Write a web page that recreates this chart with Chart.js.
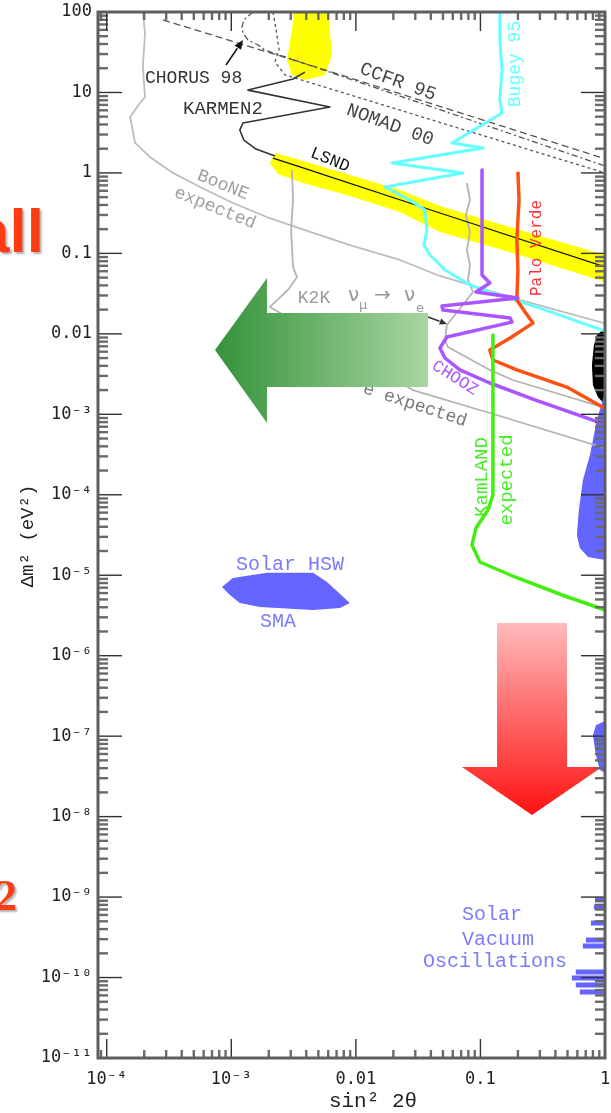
<!DOCTYPE html>
<html>
<head>
<meta charset="utf-8">
<title>Neutrino oscillation limits</title>
<script src="https://cdn.jsdelivr.net/npm/chart.js@4.4.1/dist/chart.umd.min.js"></script>
<style>
  html, body { margin: 0; padding: 0; background: #fff; }
  canvas { display: block; }
</style>
</head>
<body>
<canvas id="myChart" width="611" height="1113"></canvas>
<script>
// [sin^2 2theta, delta m^2 (eV^2)]
const boone = [[1.95e-4,100],[2.03e-4,54.8],[1.95e-4,20.7],[2.03e-4,8.79],[1.85e-4,7.4],[1.54e-4,4.95],[1.6e-4,3.72],[1.69e-4,2.36],[2.22e-4,1.58],[3.4e-4,1.0],[5.61e-4,0.668],[1.03e-3,0.423],[1.93e-3,0.283],[3.9e-3,0.195],[8.95e-3,0.127],[0.0226,0.0828],[0.0473,0.0524],[0.207,0.0264],[1,0.0135]];
const k2kExp = [[3.07e-3,1.09],[3.13e-3,0.46],[3.02e-3,0.195],[3.13e-3,0.0678],[3.37e-3,0.0508],[2.85e-3,0.0351],[2.04e-3,0.0216],[0.0287,2.0e-3],[0.143,9.53e-4],[1,3.8e-4]];
const grayB = [[0.0778,0.75],[0.0824,0.46],[0.0764,0.30],[0.0824,0.185],[0.0778,0.110],[0.0824,0.0718],[0.0794,0.0467],[0.0871,0.0331],[0.0538,0.0129],[0.0519,8.38e-3],[0.0548,6.86e-3],[0.119,3.56e-3],[0.182,2.67e-3],[1,1.2e-3]];
const ccfr = [[2.83e-4,79.6],[3.56e-3,23.9],[1,1.5]];
const chorus = [[1.49e-3,100],[1.26e-3,79.6],[1.22e-3,65.2],[1.24e-3,54.8],[1.36e-3,44.9],[1.64e-3,38.9],[1.86e-3,33.7],[1,1.22]];
const nomad = [[2.16e-3,100],[2.29e-3,59.7],[2.42e-3,33.7],[2.24e-3,23.9],[2.7e-3,16.5],[1,1.0]];
const karmen = [[3.9e-3,17.9],[3.13e-3,14.7],[1.36e-3,10.7],[6.19e-3,6.59],[1.24e-3,4.17],[1.17e-3,3.41],[1.26e-3,2.56],[1.58e-3,1.98],[2.24e-3,1.62]];
const lsndLine = [[2.16e-3,1.53],[3.56e-3,1.19],[0.0473,0.318],[1,0.0678]];
const lsndUpper = [[2.04e-3,1.33],[2.24e-3,1.77],[3.56e-3,1.45],[8.95e-3,0.942],[0.0226,0.614],[0.0473,0.388],[0.207,0.195],[1,0.0955]];
const lsndLower = [[2.04e-3,1.33],[2.37e-3,0.97],[3.56e-3,0.771],[8.95e-3,0.516],[0.0226,0.327],[0.0473,0.185],[0.207,0.0955],[1,0.0441]];
const lsndTopUpper = [[2.8e-3,25.3],[3.07e-3,59.7],[3.18e-3,100],[5.97e-3,100],[6.43e-3,29.2]];
const lsndTopLower = [[2.8e-3,25.3],[3.07e-3,16.5],[3.9e-3,14.3],[5.65e-3,16.5],[6.43e-3,29.2]];
const bugey = [[0.143,100],[0.143,44.9],[0.149,19.0],[0.143,8.05],[0.149,5.56],[0.059,2.36],[0.105,2.04],[0.0195,1.33],[0.0723,1.0],[0.0171,0.668],[0.0272,0.46],[0.0358,0.346],[0.0372,0.195],[0.0352,0.127],[0.0394,0.0955],[0.0519,0.0621],[0.0824,0.0405],[0.119,0.0331],[0.3,0.0209],[1,0.0108]];
const chooz = [[0.103,1.09],[0.103,0.0538],[0.119,0.0429],[0.0921,0.0331],[0.2,0.0279],[0.0491,0.0222],[0.05,0.0198],[0.173,0.0157],[0.179,0.014],[0.0538,9.14e-3],[0.0473,6.67e-3],[0.0519,5.01e-3],[0.0684,3.56e-3],[0.119,2.45e-3],[0.274,1.51e-3],[1,7.5e-4]];
const paloVerde = [[0.2,1.03],[0.204,0.46],[0.196,0.147],[0.2,0.0621],[0.196,0.0264],[0.228,0.0187],[0.264,0.0136],[0.173,8.87e-3],[0.119,6.3e-3],[0.126,4.73e-3],[0.196,3.56e-3],[0.494,2.18e-3],[1,1.18e-3]];
const kamland = [[0.126,9.68e-3],[0.126,9.93e-5],[0.115,6.47e-5],[0.0921,3.86e-5],[0.0855,2.38e-5],[0.0991,1.46e-5],[0.189,9.51e-6],[0.476,5.52e-6],[1,3.7e-6]];
const blackUpper = [[0.785,4.1e-3],[0.815,7.26e-3],[0.861,9.68e-3],[1,0.0118]];
const blackLower = [[0.785,4.1e-3],[0.8,2.31e-3],[0.877,1.64e-3],[1,1.31e-3]];
const lmaUpper = [[0.594,3.16e-5],[0.617,6.47e-5],[0.664,1.52e-4],[0.757,3.12e-4],[0.861,8.49e-4],[1,1.89e-3]];
const lmaLower = [[0.594,3.16e-5],[0.628,2.18e-5],[0.73,1.68e-5],[1,1.55e-5]];
const smaUpper = [[8.41e-4,7.14e-6],[1.03e-3,9.25e-6],[1.93e-3,1.07e-5],[4.53e-3,1.07e-5],[5.86e-3,8.24e-6],[8.95e-3,4.52e-6]];
const smaLower = [[8.41e-4,7.14e-6],[9.75e-4,5.68e-6],[1.17e-3,4.52e-6],[1.7e-3,4.03e-6],[4.53e-3,3.7e-6],[7.45e-3,3.92e-6],[8.95e-3,4.52e-6]];
const lowUpper = [[0.8,1.03e-7],[0.845,1.37e-7],[1,1.54e-7]];
const lowLower = [[0.8,1.03e-7],[0.845,5.83e-8],[0.91,3.79e-8],[1,3.48e-8]];
// vacuum oscillation islands, null = break
const vacuum = [[0.83,9.2e-10],[1,9.2e-10],null,[0.815,7.53e-10],[1,7.53e-10],null,[0.771,4.76e-10],[1,4.76e-10],null,[0.703,2.92e-10],[1,2.92e-10],null,[0.664,2.47e-10],[1,2.47e-10],null,[0.583,1.17e-10],[1,1.17e-10],null,[0.542,9.86e-11],[1,9.86e-11],null,[0.583,8.07e-11],[1,8.07e-11],null,[0.628,6.61e-11],[1,6.61e-11]];

const xTickVals = [1e-4, 1e-3, 1e-2, 1e-1, 1];
const xTickLabels = ['10⁻⁴', '10⁻³', '0.01', '0.1', '1'];
const yTickVals = [1e-11, 1e-10, 1e-9, 1e-8, 1e-7, 1e-6, 1e-5, 1e-4, 1e-3, 1e-2, 1e-1, 1, 10, 100];
const yTickLabels = ['10⁻¹¹', '10⁻¹⁰', '10⁻⁹', '10⁻⁸', '10⁻⁷', '10⁻⁶', '10⁻⁵', '10⁻⁴', '10⁻³', '0.01', '0.1', '1', '10', '100'];

const MONO = '"Liberation Mono", "DejaVu Sans Mono", monospace';

function toXY(arr) {
  return arr.map(p => p ? {x: p[0], y: p[1]} : {x: 1, y: null});
}

// datasets pushed back to front
const datasets = [];
function addArea(label, upper, lower, color) {
  datasets.push({label: label + ' edge', data: toXY(upper), borderColor: 'transparent', borderWidth: 0, fill: false});
  datasets.push({label: label, data: toXY(lower), borderColor: 'transparent', borderWidth: 0, backgroundColor: color, fill: '-1'});
}
function addLine(label, arr, color, width, dash) {
  datasets.push({label: label, data: toXY(arr), borderColor: color, borderWidth: width, borderDash: dash || [], fill: false});
}

addArea('LSND top', lsndTopUpper, lsndTopLower, '#ffff00');
addArea('LSND', lsndUpper, lsndLower, '#ffff00');
addArea('black', blackUpper, blackLower, '#000000');
addArea('LMA', lmaUpper, lmaLower, '#6464ff');
addArea('SMA', smaUpper, smaLower, '#6464ff');
addArea('LOW', lowUpper, lowLower, '#6464ff');
addLine('Vacuum', vacuum, '#6464ff', 5);
addLine('BooNE expected', boone, '#bdbdbd', 1.8);
addLine('K2K expected', k2kExp, '#b4b4b4', 1.8);
addLine('gray', grayB, '#b4b4b4', 1.8);
addLine('CCFR 95', ccfr, '#555', 1.3, [7, 4]);
addLine('CHORUS 98', chorus, '#555', 1.3, [6, 3, 2, 3]);
addLine('NOMAD 00', nomad, '#555', 1.3, [3, 3]);
addLine('KARMEN2', karmen, '#333', 1.6);
addLine('LSND', lsndLine, '#111', 1.2);
addLine('Bugey 95', bugey, '#66ffff', 3);
addLine('Palo Verde', paloVerde, '#ff5014', 3.5);
addLine('CHOOZ', chooz, '#aa55ff', 3.5);
addLine('KamLAND', kamland, '#44ee11', 3.5);
datasets.forEach((d, i) => { d.order = -i; });

const notes = [
  {t: 'CHORUS 98', x: 145, y: 78, c: '#333', align: 'left', size: 18},
  {t: 'KARMEN2', x: 183, y: 109, c: '#333', align: 'left', size: 19},
  {t: 'CCFR 95', x: 398, y: 82, c: '#444', rot: 20, size: 19},
  {t: 'NOMAD 00', x: 390, y: 125, c: '#444', rot: 20, size: 19},
  {t: 'LSND', x: 330, y: 160, c: '#111', rot: 22, size: 17},
  {t: 'BooNE', x: 223, y: 185, c: '#a0a0a0', rot: 22, size: 18},
  {t: 'expected', x: 215, y: 208, c: '#a0a0a0', rot: 22, size: 18},
  {t: 'K2K', x: 314, y: 298, c: '#999', size: 18},
  {t: 'e expected', x: 415, y: 405, c: '#777', rot: 18, size: 18},
  {t: 'CHOOZ', x: 455, y: 378, c: '#aa55ff', rot: 32, size: 17},
  {t: 'Bugey 95', x: 515, y: 64, c: '#66ffff', rot: -90, size: 18},
  {t: 'Palo Verde', x: 537, y: 248, c: '#ff3333', rot: -90, size: 16},
  {t: 'KamLAND', x: 482, y: 477, c: '#44ee22', rot: -90, size: 19},
  {t: 'expected', x: 507, y: 480, c: '#44ee22', rot: -90, size: 19},
  {t: 'Solar HSW', x: 290, y: 565, c: '#7b7bff', size: 20},
  {t: 'SMA', x: 278, y: 622, c: '#7b7bff', size: 20},
  {t: 'Solar', x: 462, y: 915, c: '#7b7bff', align: 'left', size: 20},
  {t: 'Vacuum', x: 462, y: 940, c: '#7b7bff', align: 'left', size: 20},
  {t: 'Oscillations', x: 423, y: 962, c: '#7b7bff', align: 'left', size: 20}
];

function drawNote(ctx, n) {
  ctx.save();
  ctx.translate(n.x, n.y);
  if (n.rot) ctx.rotate(n.rot * Math.PI / 180);
  ctx.font = (n.size || 18) + 'px ' + MONO;
  ctx.fillStyle = n.c;
  ctx.textAlign = n.align || 'center';
  ctx.textBaseline = 'middle';
  ctx.fillText(n.t, 0, 0);
  ctx.restore();
}

function smallArrow(ctx, x1, y1, x2, y2, color, head) {
  const a = Math.atan2(y2 - y1, x2 - x1);
  ctx.save();
  ctx.strokeStyle = color;
  ctx.fillStyle = color;
  ctx.lineWidth = 1.5;
  ctx.beginPath();
  ctx.moveTo(x1, y1);
  ctx.lineTo(x2 - head * Math.cos(a), y2 - head * Math.sin(a));
  ctx.stroke();
  ctx.beginPath();
  ctx.moveTo(x2, y2);
  ctx.lineTo(x2 - head * Math.cos(a - 0.4), y2 - head * Math.sin(a - 0.4));
  ctx.lineTo(x2 - head * Math.cos(a + 0.4), y2 - head * Math.sin(a + 0.4));
  ctx.closePath();
  ctx.fill();
  ctx.restore();
}

function poly(ctx, pts, style) {
  ctx.beginPath();
  pts.forEach((p, i) => i ? ctx.lineTo(p[0], p[1]) : ctx.moveTo(p[0], p[1]));
  ctx.closePath();
  ctx.fillStyle = style;
  ctx.fill();
}

const decor = {
  id: 'decor',
  afterDatasetsDraw(chart) {
    const ctx = chart.ctx;
    notes.forEach(n => drawNote(ctx, n));

    // K2K nu_mu -> nu_e
    ctx.save();
    ctx.fillStyle = '#999';
    ctx.textBaseline = 'middle';
    ctx.font = '20px "DejaVu Sans"';
    ctx.fillText('ν', 348, 296);
    ctx.fillText('→', 374, 296);
    ctx.fillText('ν', 404, 296);
    ctx.font = '13px "DejaVu Sans"';
    ctx.fillText('μ', 359, 306);
    ctx.fillText('e', 416, 309);
    ctx.restore();

    smallArrow(ctx, 226, 65, 243, 40, '#111', 10);
    smallArrow(ctx, 428, 317, 447, 324, '#333', 8);

    // green arrow
    const g = ctx.createLinearGradient(215, 0, 428, 0);
    g.addColorStop(0, '#34923a');
    g.addColorStop(1, '#a8d6a2');
    poly(ctx, [[215, 350], [267, 278], [267, 313], [428, 313], [428, 387], [267, 387], [267, 423]], g);

    // red arrow
    const r = ctx.createLinearGradient(0, 623, 0, 815);
    r.addColorStop(0, '#ffbaba');
    r.addColorStop(1, '#ff1212');
    poly(ctx, [[497, 623], [567, 623], [567, 767], [602, 767], [532, 815], [462, 767], [497, 767]], r);
  },
  afterDraw(chart) {
    const ctx = chart.ctx;
    const {left: L, right: R, top: T, bottom: B} = chart.chartArea;
    const xs = chart.scales.x, ys = chart.scales.y;
    const line = (a, b, c, d) => { ctx.beginPath(); ctx.moveTo(a, b); ctx.lineTo(c, d); ctx.stroke(); };
    ctx.save();

    // minor ticks
    ctx.strokeStyle = '#6a6a6a';
    ctx.lineWidth = 2.4;
    for (let e = -11; e < 2; e++) {
      for (let m = 2; m <= 9; m++) {
        const p = ys.getPixelForValue(m * Math.pow(10, e));
        line(L, p, L + 10, p);
        line(R, p, R - 10, p);
      }
    }
    for (let e = -5; e < 0; e++) {
      for (let m = 2; m <= 9; m++) {
        const v = m * Math.pow(10, e);
        if (v < xs.min || v > xs.max) continue;
        const p = xs.getPixelForValue(v);
        line(p, B, p, B - 8);
        line(p, T, p, T + 8);
      }
    }
    // major ticks
    ctx.strokeStyle = '#333';
    ctx.lineWidth = 1.4;
    yTickVals.forEach(v => {
      const p = ys.getPixelForValue(v);
      line(L, p, L + 24, p);
      line(R, p, R - 24, p);
    });
    xTickVals.forEach(v => {
      const p = xs.getPixelForValue(v);
      line(p, B, p, B - 19);
      line(p, T, p, T + 19);
    });

    // frame
    ctx.strokeStyle = '#5e5e5e';
    ctx.lineWidth = 3;
    ctx.strokeRect(L, T, R - L, B - T);

    // axis titles
    ctx.fillStyle = '#222';
    ctx.textAlign = 'center';
    ctx.textBaseline = 'middle';
    ctx.font = '21px ' + MONO;
    ctx.fillText('sin² 2θ', 373, 1101);
    ctx.translate(28, 536);
    ctx.rotate(-Math.PI / 2);
    ctx.font = '19px ' + MONO;
    ctx.fillText('Δm² (eV²)', 0, 0);
    ctx.restore();

    // cut-off slide text on the left
    ctx.save();
    ctx.fillStyle = '#ff3b14';
    ctx.shadowColor = 'rgba(0,0,0,0.3)';
    ctx.shadowOffsetX = 2;
    ctx.shadowOffsetY = 2;
    ctx.shadowBlur = 2;
    ctx.textAlign = 'right';
    ctx.textBaseline = 'alphabetic';
    ctx.font = 'bold 62px "Liberation Sans"';
    ctx.fillText('all', 44, 252);
    ctx.font = 'bold 44px "Liberation Serif"';
    ctx.fillText('2', 17, 910);
    ctx.restore();
  }
};

const tickFont = {family: '"DejaVu Sans Mono", monospace', size: 17};

function noPad(s) {
  s.paddingLeft = 0;
  s.paddingRight = 0;
  s.paddingTop = 0;
  s.paddingBottom = 0;
}

new Chart(document.getElementById('myChart'), {
  type: 'line',
  data: { datasets: datasets },
  options: {
    responsive: false,
    animation: false,
    layout: { padding: {top: 12, right: 6, left: 0, bottom: 0}, autoPadding: false },
    elements: {
      point: { radius: 0 },
      line: { tension: 0, borderJoinStyle: 'round', borderCapStyle: 'butt' }
    },
    plugins: { legend: { display: false }, tooltip: { enabled: false } },
    scales: {
      x: {
        type: 'logarithmic',
        min: 8.51e-5,
        max: 1,
        grid: { display: false, drawTicks: false },
        border: { display: false },
        afterBuildTicks: s => { s.ticks = xTickVals.map(v => ({value: v})); },
        afterFit: s => { s.height = 55; noPad(s); },
        ticks: { autoSkip: false, maxRotation: 0, padding: 11, color: '#222', font: tickFont,
                 callback: (v, i) => xTickLabels[i] }
      },
      y: {
        type: 'logarithmic',
        min: 1e-11,
        max: 100,
        grid: { display: false, drawTicks: false },
        border: { display: false },
        afterBuildTicks: s => { s.ticks = yTickVals.map(v => ({value: v})); },
        afterFit: s => { s.width = 98; noPad(s); },
        ticks: { autoSkip: false, padding: 6, color: '#222', font: tickFont,
                 callback: (v, i) => yTickLabels[i] }
      }
    }
  },
  plugins: [decor]
});
</script>
</body>
</html>
